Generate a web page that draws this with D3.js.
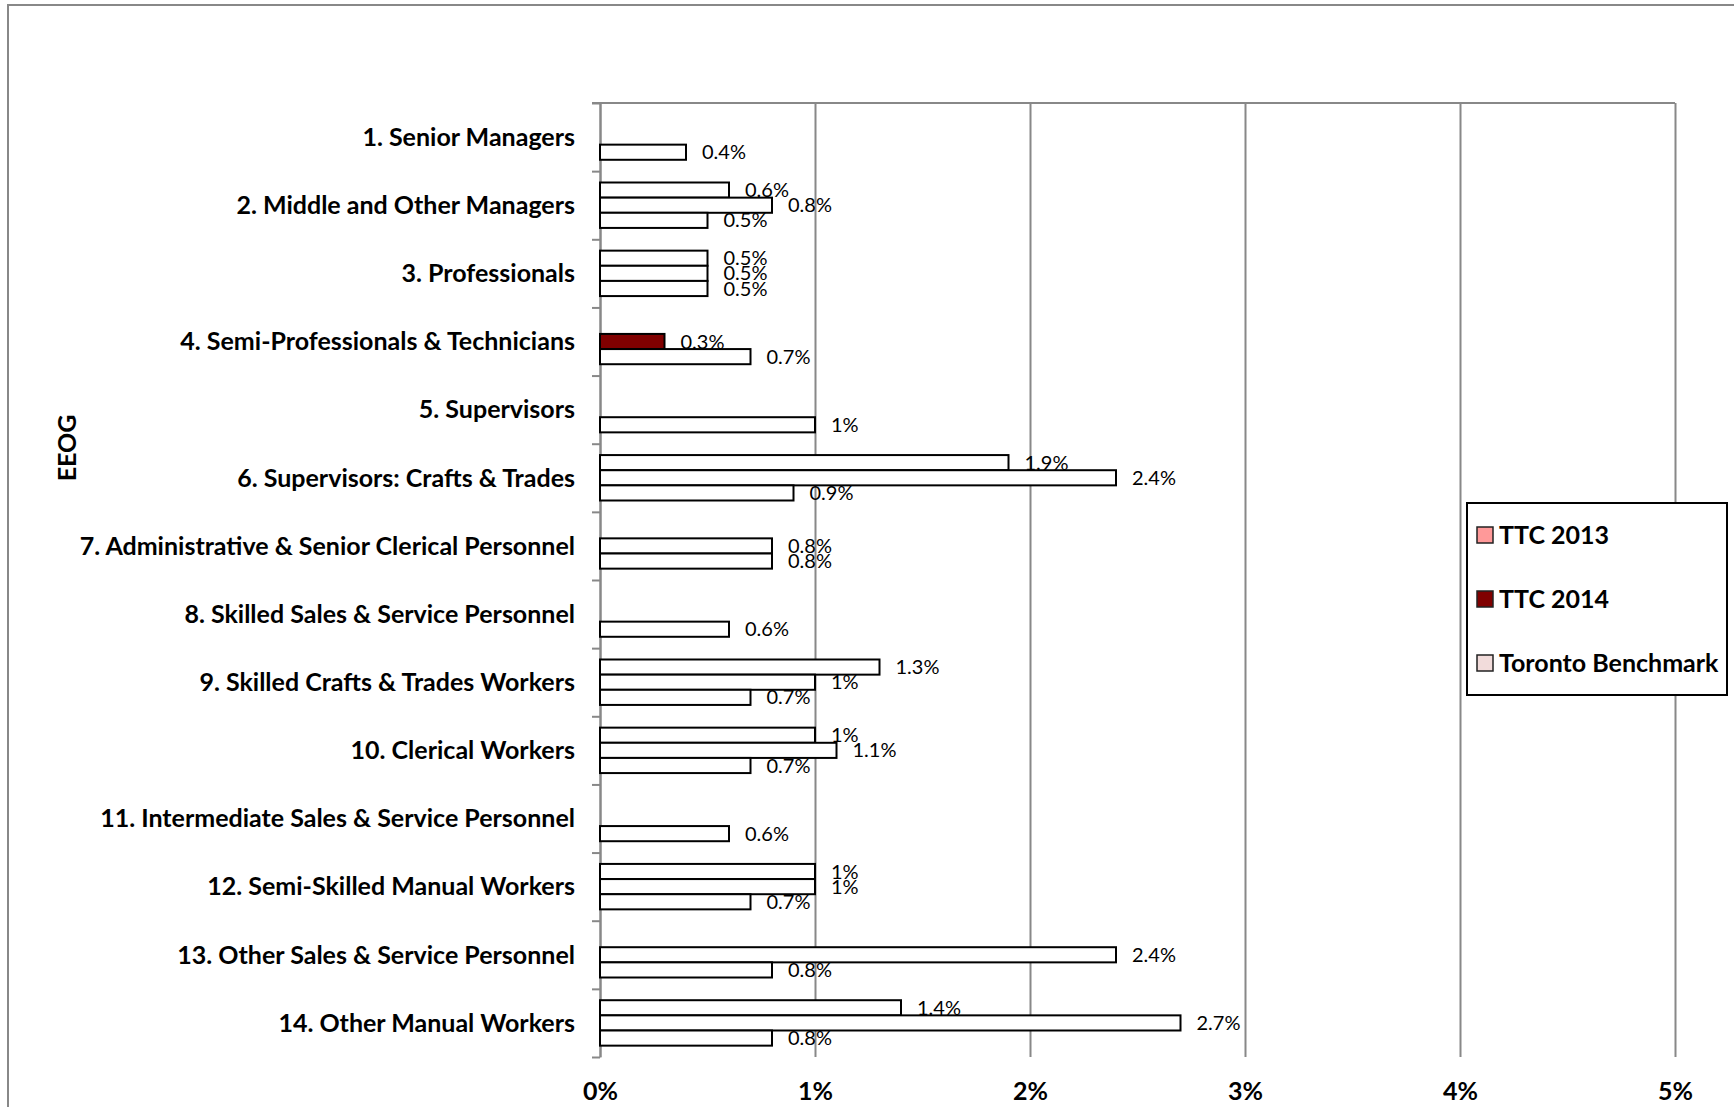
<!DOCTYPE html>
<html>
<head>
<meta charset="utf-8">
<title>EEOG</title>
<script src="https://d3js.org/d3.v7.min.js"></script>
<style>
  body { margin: 0; background: #fff; }
  text { font-family: Lato, "Open Sans", sans-serif; }
</style>
</head>
<body>
<div id="chart"></div>
<script type="text/javascript">
const categories = [
    "1. Senior Managers",
    "2. Middle and Other Managers",
    "3. Professionals",
    "4. Semi-Professionals & Technicians",
    "5. Supervisors",
    "6. Supervisors: Crafts & Trades",
    "7. Administrative & Senior Clerical Personnel",
    "8. Skilled Sales & Service Personnel",
    "9. Skilled Crafts & Trades Workers",
    "10. Clerical Workers",
    "11. Intermediate Sales & Service Personnel",
    "12. Semi-Skilled Manual Workers",
    "13. Other Sales & Service Personnel",
    "14. Other Manual Workers"
];
const seriesNames = ["TTC 2013", "TTC 2014", "Toronto Benchmark"];
const ttc2013   = [null, 0.6, 0.5, null, null, 1.9, null, null, 1.3, 1,   null, 1,   null, 1.4];
const ttc2014   = [null, 0.8, 0.5, 0.3,  null, 2.4, 0.8,  null, 1,   1.1, null, 1,   2.4,  2.7];
const benchmark = [0.4,  0.5, 0.5, 0.7,  1,    0.9, 0.8,  0.6,  0.7, 0.7, 0.6,  0.7, 0.8,  0.8];
const xTicks = [0, 1, 2, 3, 4, 5];
const legendColors = ["#ff9999", "#800000", "#f2dcdb"];

const W = 1734, H = 1107;
const plotL = 600, plotR = 1675, plotT = 103, plotB = 1057;

let svg = d3.select("#chart").append("svg")
    .attr("width", W).attr("height", H);

// outer chart border
svg.append("rect")
    .attr("x", 8).attr("y", 5)
    .attr("width", W + 50).attr("height", H + 50)
    .attr("fill", "#fff").attr("stroke", "#888").attr("stroke-width", 2);

let xScale = d3.scaleLinear().domain([0, 5]).range([plotL, plotR]);
let yScale = d3.scaleBand().domain(categories).range([plotT, plotB]);
let yInner = d3.scaleBand().domain(seriesNames)
    .range([0, yScale.bandwidth()]).paddingOuter(0.75);
let yEdge = d3.scaleLinear().domain([0, categories.length]).range([plotT, plotB]);

// gridlines + bottom labels
let xAxis = d3.axisBottom(xScale)
    .tickValues(xTicks)
    .tickSizeInner(-(plotB - plotT))
    .tickSizeOuter(0)
    .tickFormat(d => d + "%");

let gx = svg.append("g")
    .attr("transform", "translate(0," + plotB + ")")
    .call(xAxis);
gx.select(".domain").remove();
gx.selectAll("line").attr("stroke", "#888").attr("stroke-width", 2);
gx.selectAll("text")
    .attr("y", 34).attr("dy", "0.35em")
    .attr("font-size", "25px").attr("font-weight", "bold")
    .attr("fill", "#000");

// top frame line
svg.append("line")
    .attr("x1", plotL - 8).attr("x2", plotR)
    .attr("y1", plotT).attr("y2", plotT)
    .attr("stroke", "#888").attr("stroke-width", 2);

// category axis with ticks between groups
let yAxis = d3.axisLeft(yEdge)
    .ticks(categories.length)
    .tickSizeInner(8).tickSizeOuter(0)
    .tickFormat("");
let gy = svg.append("g")
    .attr("transform", "translate(" + plotL + ",0)")
    .call(yAxis);
gy.selectAll("line, path").attr("stroke", "#888").attr("stroke-width", 2);

// category labels
svg.selectAll(".cat")
    .data(categories)
    .enter()
    .append("text")
    .attr("class", "cat")
    .attr("x", plotL - 25)
    .attr("y", d => yScale(d) + yScale.bandwidth() / 2)
    .attr("dy", "0.35em")
    .attr("text-anchor", "end")
    .attr("font-size", "25px")
    .attr("font-weight", "bold")
    .text(d => d);

// bars
let rows = [];
[ttc2013, ttc2014, benchmark].forEach(function(vals, s) {
    vals.forEach(function(v, i) {
        if (v != null) rows.push({cat: categories[i], series: seriesNames[s], value: v});
    });
});

function barFill(d) {
    // only the single TTC 2014 bar for group 4 is drawn filled
    return (d.series === "TTC 2014" && d.cat === categories[3]) ? legendColors[1] : "#fff";
}

svg.selectAll(".bar")
    .data(rows)
    .enter()
    .append("rect")
    .attr("class", "bar")
    .attr("x", xScale(0))
    .attr("y", d => yScale(d.cat) + yInner(d.series))
    .attr("width", d => xScale(d.value) - xScale(0))
    .attr("height", yInner.bandwidth())
    .attr("fill", barFill)
    .attr("stroke", "#000")
    .attr("stroke-width", 2);

svg.selectAll(".lbl")
    .data(rows)
    .enter()
    .append("text")
    .attr("class", "lbl")
    .attr("x", d => xScale(d.value) + 16)
    .attr("y", d => yScale(d.cat) + yInner(d.series) + yInner.bandwidth() / 2)
    .attr("dy", "0.35em")
    .attr("font-size", "20px")
    .text(d => d.value + "%");

// axis title
svg.append("text")
    .attr("transform", "translate(67,448) rotate(-90)")
    .attr("text-anchor", "middle")
    .attr("dy", "0.35em")
    .attr("font-size", "25px")
    .attr("font-weight", "bold")
    .text("EEOG");

// legend
let lg = svg.append("g");
lg.append("rect")
    .attr("x", 1467).attr("y", 503)
    .attr("width", 260).attr("height", 192)
    .attr("fill", "#fff").attr("stroke", "#000").attr("stroke-width", 2);

let items = lg.selectAll(".item")
    .data(seriesNames)
    .enter()
    .append("g")
    .attr("transform", (d, i) => "translate(1477," + (535 + i * 64) + ")");
items.append("rect")
    .attr("x", 0).attr("y", -8)
    .attr("width", 16).attr("height", 16)
    .attr("fill", (d, i) => legendColors[i])
    .attr("stroke", "#222").attr("stroke-width", 1.5);
items.append("text")
    .attr("x", 22)
    .attr("dy", "0.35em")
    .attr("font-size", "25px")
    .attr("font-weight", "bold")
    .text(d => d);
</script>
</body>
</html>
